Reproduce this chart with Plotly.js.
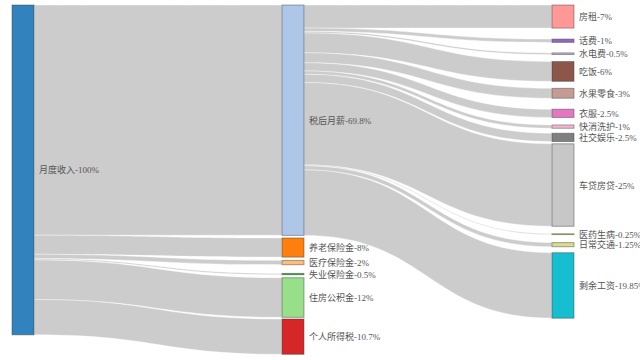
<!DOCTYPE html>
<html>
<head>
<meta charset="utf-8">
<script src="https://cdn.plot.ly/plotly-3.0.1.min.js"></script>
<style>html,body{margin:0;padding:0;background:#fff;}#chart{width:640px;height:360px;}</style>
</head>
<body>
<div id="chart"></div>
<script>
// Node names and their display labels
var nodeNames = ['月度收入','税后月薪','养老保险金','医疗保险金','失业保险金','住房公积金','个人所得税',
  '房租','话费','水电费','吃饭','水果零食','衣服','快消洗护','社交娱乐','车贷房贷','医药生病','日常交通','剩余工资'];
var nodeLabels = ['月度收入-100%','税后月薪-69.8%','养老保险金-8%','医疗保险金-2%','失业保险金-0.5%','住房公积金-12%','个人所得税-10.7%',
  '房租-7%','话费-1%','水电费-0.5%','吃饭-6%','水果零食-3%','衣服-2.5%','快消洗护-1%','社交娱乐-2.5%','车贷房贷-25%','医药生病-0.25%','日常交通-1.25%','剩余工资-19.85%'];
var nodeColors = ['#3182bd','#aec7e8','#ff7f0e','#ffbb78','#2ca02c','#98df8a','#d62728',
  '#ff9896','#9467bd','#c5b0d5','#8c564b','#c49c94','#e377c2','#f7b6d2','#7f7f7f','#c7c7c7','#bcbd22','#dbdb8d','#17becf'];
// column of each node (0 = income, 1 = first split, 2 = spending)
var nodeColumn = [0,1,1,1,1,1,1,2,2,2,2,2,2,2,2,2,2,2,2];

// Flows
var linkSources = ['月度收入','月度收入','月度收入','月度收入','月度收入','月度收入',
  '税后月薪','税后月薪','税后月薪','税后月薪','税后月薪','税后月薪','税后月薪','税后月薪','税后月薪','税后月薪','税后月薪','税后月薪'];
var linkTargets = ['税后月薪','养老保险金','医疗保险金','失业保险金','住房公积金','个人所得税',
  '房租','话费','水电费','吃饭','水果零食','衣服','快消洗护','社交娱乐','车贷房贷','医药生病','日常交通','剩余工资'];
var linkValues = [69.8, 5.8, 1.3, 0.4, 12, 10.7,
  7, 1, 0.5, 6, 3, 2.5, 1, 2.5, 25, 0.25, 1.25, 19.85];

// ---- layout parameters (styles / spacing, not data) ----
var W = 640, H = 360;
var margin = {l: 12, r: 66, t: 5, b: 5};
var thickness = 22, pad = 4;
// empty space left above each node inside its column (px), as in the reference's relaxed layout
var gapBefore = [0,
  0, 2.6, 3.3, 8.7, 3, 1.7,
  0, 11, 10.5, 7, 7, 11, 7.5, 5, 2.3, 7.5, 8, 6];
var plotW = W - margin.l - margin.r, plotH = H - margin.t - margin.b;
var fontFam = '"Liberation Serif", "Noto Sans CJK SC", serif';

var idx = function(n){ return nodeNames.indexOf(n); };
var src = linkSources.map(idx), tgt = linkTargets.map(idx);

// node value = max(in, out), as the sankey layout does
var inV = nodeNames.map(function(){return 0;}), outV = nodeNames.map(function(){return 0;});
linkValues.forEach(function(v, i){ outV[src[i]] += v; inV[tgt[i]] += v; });
var nodeVal = nodeNames.map(function(_, i){ return Math.max(inV[i], outV[i]); });

// scale used by the sankey (same rule as d3-sankey)
var nCols = 3, colSum = [0,0,0], colCnt = [0,0,0];
nodeVal.forEach(function(v, i){ colSum[nodeColumn[i]] += v; colCnt[nodeColumn[i]]++; });
var ky = Infinity;
for (var c = 0; c < nCols; c++) ky = Math.min(ky, (plotH - (colCnt[c]-1)*pad) / colSum[c]);

// stack nodes in each column from the top
var nodeX = [], nodeY = [], cursor = [0,0,0];
var colX = [thickness/2/plotW, 0.5, 1 - thickness/2/plotW];
nodeNames.forEach(function(_, i){
  var c = nodeColumn[i], h = nodeVal[i]*ky;
  cursor[c] += gapBefore[i];
  nodeX.push(colX[c]);
  nodeY.push((cursor[c] + h/2) / plotH);
  cursor[c] += h;
});

var trace = {
  type: 'sankey',
  orientation: 'h',
  arrangement: 'fixed',
  hoverinfo: 'none',
  node: {
    label: nodeNames.map(function(){ return ''; }),
    color: nodeColors,
    x: nodeX,
    y: nodeY,
    thickness: thickness,
    pad: pad,
    align: 'left',
    line: {color: 'rgba(60,60,60,0.45)', width: 1},
    hoverinfo: 'none'
  },
  link: {
    source: src,
    target: tgt,
    value: linkValues,
    color: 'rgba(0,0,0,0.2)',
    line: {color: 'rgba(255,255,255,0.8)', width: 0.5},
    hoverinfo: 'none'
  },
  textfont: {family: fontFam, size: 9, color: '#555'}
};

// node labels, to the right of each node
var annotations = nodeLabels.map(function(t, i){
  return {
    text: t, xref: 'paper', yref: 'paper',
    x: nodeX[i] + thickness/2/plotW, y: 1 - nodeY[i],
    xanchor: 'left', yanchor: 'middle', xshift: 3,
    showarrow: false,
    font: {family: fontFam, size: 9, color: '#555'}
  };
});

var layout = {
  width: W, height: H,
  margin: margin,
  paper_bgcolor: '#ffffff',
  font: {family: fontFam, size: 9, color: '#555'},
  annotations: annotations
};

Plotly.newPlot('chart', [trace], layout, {displayModeBar: false, staticPlot: true});
</script>
</body>
</html>
